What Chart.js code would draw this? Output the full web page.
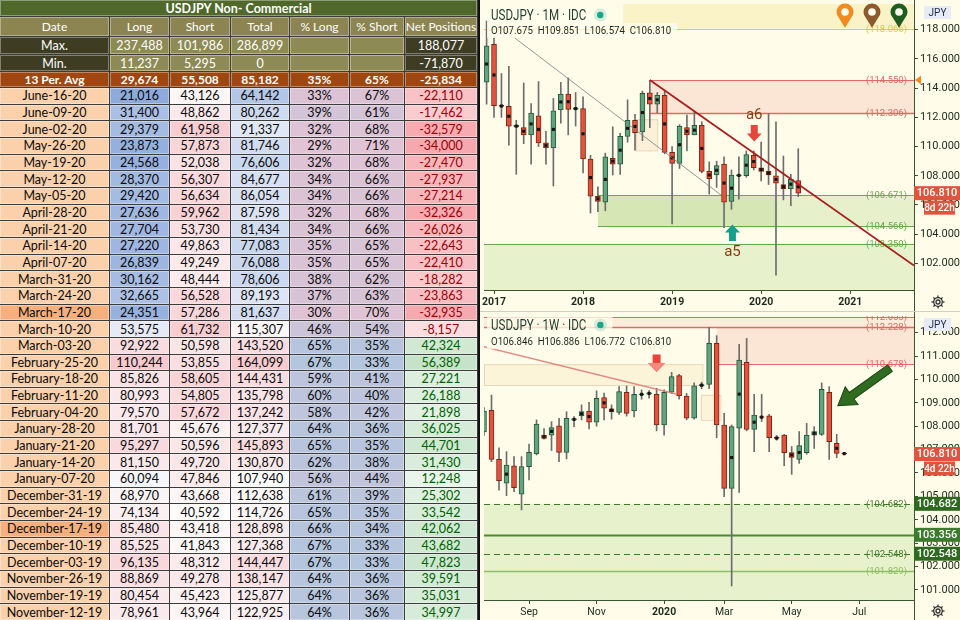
<!DOCTYPE html>
<html>
<head>
<meta charset="utf-8">
<title>USDJPY Non- Commercial</title>
<script src="https://cdn.jsdelivr.net/npm/chart.js@4.4.1/dist/chart.umd.min.js"></script>
<style>
  html, body { margin: 0; padding: 0; background: #fff; }
  body { width: 960px; height: 620px; position: relative; overflow: hidden; }
  #cot { position: absolute; left: 0; top: 0; width: 478px; height: 620px; overflow: hidden;
         display: grid; grid-template-columns: 110px 60px 61px 59px 60px 55px 73px;
         grid-template-rows: 17px 20px 18px 17px 16px repeat(32, 16.67px);
         background: #2a2a2a; font-family: Lato, 'Noto Sans', sans-serif; font-size: 12.5px; }
  #cot div { box-sizing: border-box; border-right: 1px solid #3b3b3b; border-bottom: 1px solid #3b3b3b;
             display: flex; align-items: center; justify-content: center; white-space: nowrap;
             overflow: hidden; color: #0a0a0a; box-shadow: inset 0 0 0 1px rgba(255,255,255,0.35); }
  #cot .title { grid-column: 1 / span 7; background: #50692b; color: #fff; font-weight: bold; }
  #cot .head { background: #8c8551; color: #fff; font-size: 12px; }
  #cot .dark { background: #3e3d24; color: #fff; }
  #cot .khaki { background: #8e8a55; color: #fff; box-shadow: inset 0 0 0 1px #bdb787; }
  #cot .avg { background: #a0470f; color: #fff; font-weight: bold; font-size: 12px; }
  #sep { position: absolute; left: 478px; top: 0; width: 2px; height: 620px; background: #111; }
  #right { position: absolute; left: 480px; top: 0; width: 480px; height: 620px; background: #fffdea; }
  #mChart { position: absolute; left: 0; top: 0; }
  #wChart { position: absolute; left: 0; top: 312px; }
  #divider { position: absolute; left: 0; top: 311px; width: 480px; height: 1px; background: #cfcfc3; }
</style>
</head>
<body>
<div id="cot"></div>
<div id="sep"></div>
<div id="right">
  <canvas id="mChart" width="480" height="311"></canvas>
  <div id="divider"></div>
  <canvas id="wChart" width="480" height="308"></canvas>
</div>
<script>
// ---------- COT table ----------
const colHeads = ['Date', 'Long', 'Short', 'Total', '% Long', '% Short', 'Net Positions'];
const summaryLabels = ['Max.', 'Min.', '13 Per. Avg'];
const summaryLong = [237488, 11237, 29674];
const summaryShort = [101986, 5295, 55508];
const summaryTotal = [286899, 0, 85182];
const summaryPctLong = [null, null, 35];
const summaryPctShort = [null, null, 65];
const summaryNet = [188077, -71870, -25834];

const rowDates = ['June-16-20', 'June-09-20', 'June-02-20', 'May-26-20', 'May-19-20', 'May-12-20', 'May-05-20',
  'April-28-20', 'April-21-20', 'April-14-20', 'April-07-20', 'March-31-20', 'March-24-20', 'March-17-20',
  'March-10-20', 'March-03-20', 'February-25-20', 'February-18-20', 'February-11-20', 'February-04-20',
  'January-28-20', 'January-21-20', 'January-14-20', 'January-07-20', 'December-31-19', 'December-24-19',
  'December-17-19', 'December-10-19', 'December-03-19', 'November-26-19', 'November-19-19', 'November-12-19'];
const longPos = [21016, 31400, 29379, 23873, 24568, 28370, 29420, 27636, 27704, 27220, 26839, 30162, 32665, 24351,
  53575, 92922, 110244, 85826, 80993, 79570, 81701, 95297, 81150, 60094, 68970, 74134, 85480, 85525, 96135, 88869, 80454, 78961];
const shortPos = [43126, 48862, 61958, 57873, 52038, 56307, 56634, 59962, 53730, 49863, 49249, 48444, 56528, 57286,
  61732, 50598, 53855, 58605, 54805, 57672, 45676, 50596, 49720, 47846, 43668, 40592, 43418, 41843, 48312, 49278, 45423, 43964];
const totalPos = [64142, 80262, 91337, 81746, 76606, 84677, 86054, 87598, 81434, 77083, 76088, 78606, 89193, 81637,
  115307, 143520, 164099, 144431, 135798, 137242, 127377, 145893, 130870, 107940, 112638, 114726, 128898, 127368, 144447, 138147, 125877, 122925];
const pctLong = [33, 39, 32, 29, 32, 34, 34, 32, 34, 35, 35, 38, 37, 30, 46, 65, 67, 59, 60, 58, 64, 65, 62, 56, 61, 65, 66, 67, 67, 64, 64, 64];
const pctShort = [67, 61, 68, 71, 68, 66, 66, 68, 66, 65, 65, 62, 63, 70, 54, 35, 33, 41, 40, 42, 36, 35, 38, 44, 39, 35, 34, 33, 33, 36, 36, 36];
const netPos = [-22110, -17462, -32579, -34000, -27470, -27937, -27214, -32326, -26026, -22643, -22410, -18282, -23863, -32935,
  -8157, 42324, 56389, 27221, 26188, 21898, 36025, 44701, 31430, 12248, 25302, 33542, 42062, 43682, 47823, 39591, 35031, 34997];
const highlightDates = ['March-17-20', 'December-17-19'];

// ---------- USDJPY monthly candles, Dec 2016 .. Jun 2020 (x = months after Jan 2017) ----------
const monthFirstX = -1;
const mOpen  = [114.4, 117.0, 112.8, 112.75, 111.35, 111.3, 110.8, 112.1, 110.25, 109.9, 112.5, 113.6, 112.55, 112.6,
  109.15, 106.6, 106.2, 109.2, 108.8, 110.7, 111.8, 111.0, 113.68, 112.9, 113.5, 109.6, 108.85, 111.3, 110.8, 111.45,
  108.3, 108.05, 108.8, 106.25, 108.0, 108.0, 109.4, 108.55, 108.3, 108.0, 107.4, 107.1, 107.675];
const mHigh  = [118.6, 117.5, 115.0, 115.5, 111.8, 114.35, 112.95, 114.45, 111.05, 113.3, 114.4, 114.7, 113.7, 113.4,
  109.4, 107.25, 109.55, 111.35, 110.9, 113.2, 112.2, 113.8, 114.53, 113.7, 113.8, 110.0, 111.5, 112.15, 112.4, 111.7,
  108.95, 109.0, 109.3, 108.4, 109.3, 109.7, 109.7, 110.3, 112.25, 111.7, 109.35, 108.1, 109.851];
const mLow   = [112.9, 112.0, 112.0, 110.1, 108.1, 110.2, 108.8, 110.0, 108.8, 107.3, 111.6, 110.8, 111.4, 108.2,
  105.45, 105.55, 105.6, 108.05, 108.1, 110.3, 109.75, 110.4, 111.3, 112.3, 109.5, 104.7, 108.5, 109.7, 110.8, 108.2,
  106.75, 107.2, 104.45, 105.7, 106.4, 107.9, 108.4, 107.65, 107.4, 101.2, 106.35, 105.95, 106.574];
const mClose = [116.9, 112.8, 112.75, 111.4, 111.45, 110.8, 112.3, 110.25, 109.9, 112.45, 113.6, 112.55, 112.65, 109.15,
  106.6, 106.25, 109.3, 108.8, 110.7, 111.8, 110.95, 113.65, 112.9, 113.5, 109.6, 108.85, 111.4, 110.8, 111.45, 108.3,
  107.8, 108.7, 106.2, 108.05, 108.05, 109.45, 108.55, 108.3, 108.05, 107.5, 107.1, 107.75, 106.81];
const yearTicks = [0, 12, 24, 36, 48];
const yearLabels = ['2017', '2018', '2019', '2020', '2021'];
const monthPriceTicks = [102, 104, 106, 108, 110, 112, 114, 116, 118];
const mTrendRed = [{ x: 21, y: 114.55 }, { x: 56.6, y: 101.85 }];
const mTrendGray = [{ x: 0, y: 118.52 }, { x: 30.57, y: 106.69 }];

// ---------- USDJPY weekly candles, week of Jul 22 2019 .. Jun 22 2020 ----------
const wOpen  = [107.75, 108.68, 106.58, 105.56, 106.3, 105.09, 106.27, 106.81, 107.62, 107.62, 108.01, 106.88, 108.27,
  108.44, 108.65, 108.17, 109.22, 108.74, 108.59, 109.45, 108.65, 109.34, 109.38, 109.36, 108.05, 109.45, 110.16, 109.29,
  108.34, 109.72, 109.79, 111.54, 108.05, 105.34, 107.91, 110.73, 107.86, 108.4, 108.44, 107.5, 107.62, 106.87, 106.58,
  106.87, 107.62, 107.65, 109.45, 107.27, 106.846];
const wHigh  = [108.8, 109.33, 107.08, 106.91, 106.7, 106.7, 107.23, 108.27, 107.9, 108.19, 108.34, 108.62, 108.41,
  108.91, 109.02, 109.51, 109.41, 108.91, 109.69, 109.72, 109.69, 109.55, 109.52, 109.62, 109.55, 110.3, 110.22, 109.4,
  109.85, 109.88, 112.23, 111.87, 108.55, 108.05, 111.5, 111.75, 109.36, 109.36, 108.51, 107.6, 107.65, 107.13, 107.77,
  108.12, 107.98, 109.85, 109.69, 107.65, 106.886];
const wLow   = [107.6, 106.48, 105.27, 105.03, 105.2, 104.42, 105.7, 106.77, 107.45, 106.96, 106.48, 106.6, 107.98,
  108.27, 107.88, 108.0, 108.27, 108.3, 108.5, 108.43, 108.4, 109.15, 109.2, 107.8, 107.62, 109.4, 109.16, 108.27,
  108.3, 109.6, 109.6, 107.5, 104.99, 101.17, 105.17, 107.8, 106.91, 108.2, 106.91, 107.4, 106.31, 105.94, 106.41,
  106.8, 107.05, 107.6, 106.58, 106.65, 106.772];
const wClose = [108.65, 106.58, 105.67, 106.34, 105.37, 106.27, 106.88, 108.09, 107.48, 107.94, 106.88, 108.34, 108.31,
  108.62, 108.17, 109.19, 108.77, 108.62, 109.48, 108.55, 109.36, 109.38, 109.42, 108.05, 109.45, 110.12, 109.29, 108.34,
  109.72, 109.78, 111.54, 108.05, 105.34, 107.98, 110.83, 107.86, 108.48, 108.37, 107.51, 107.48, 106.87, 106.67, 107.17,
  107.62, 107.77, 109.58, 107.34, 106.84, 106.81];
const wDotIdx = [3, 8, 9, 12, 13, 14, 16, 17, 21, 22, 29, 33, 34, 36, 37, 39, 41, 42, 44, 47, 48];
const weekTicks = [6, 15, 24, 32, 41, 50];
const weekLabels = ['Sep', 'Nov', '2020', 'Mar', 'May', 'Jul'];
const weekPriceTicks = [101, 102, 103, 104, 105, 106, 107, 108, 109, 110, 111, 112];
const wTrendRed = [{ x: -0.3, y: 111.42 }, { x: 25.6, y: 109.38 }];

// ---------- build the table ----------
const fmt = n => n.toLocaleString('en-US');
const hexRgb = h => [1, 3, 5].map(i => parseInt(h.substr(i, 2), 16));
function mix(c1, c2, t) {
  t = Math.max(0, Math.min(1, t));
  const a = hexRgb(c1), b = hexRgb(c2);
  return 'rgb(' + a.map((v, i) => Math.round(v + (b[i] - v) * t)).join(',') + ')';
}
function scale3(v, lo, mid, hi, cLo, cMid, cHi) {
  return v <= mid ? mix(cLo, cMid, (v - lo) / (mid - lo)) : mix(cMid, cHi, (v - mid) / (hi - mid));
}

const cot = document.getElementById('cot');
function add(text, cls, bg, color) {
  const d = document.createElement('div');
  d.textContent = text;
  if (cls) d.className = cls;
  if (bg) d.style.background = bg;
  if (color) d.style.color = color;
  cot.appendChild(d);
}

add('USDJPY Non- Commercial', 'title');
colHeads.forEach(h => add(h, 'head'));
summaryLabels.forEach((lab, i) => {
  if (i < 2) {
    add(lab, 'dark');
    add(fmt(summaryLong[i]), 'khaki');
    add(fmt(summaryShort[i]), 'khaki');
    add(fmt(summaryTotal[i]), 'khaki');
    add('', 'khaki');
    add('', 'khaki');
    add(fmt(summaryNet[i]), 'dark');
  } else {
    [lab, fmt(summaryLong[i]), fmt(summaryShort[i]), fmt(summaryTotal[i]),
     summaryPctLong[i] + '%', summaryPctShort[i] + '%', fmt(summaryNet[i])].forEach(t => add(t, 'avg'));
  }
});

const lMin = Math.min(...longPos), lMax = Math.max(...longPos);
const sMin = Math.min(...shortPos), sMax = Math.max(...shortPos);
const tMin = Math.min(...totalPos), tMax = Math.max(...totalPos);
rowDates.forEach((d, i) => {
  add(d, null, highlightDates.includes(d) ? '#f5b07d' : '#fbd1ab');
  add(fmt(longPos[i]), null, scale3(longPos[i], lMin, 62000, lMax, '#8eaadb', '#fbfbfd', '#f8cacf'));
  add(fmt(shortPos[i]), null, mix('#fefcfc', '#f8ccd0', (shortPos[i] - sMin) / (sMax - sMin)));
  add(fmt(totalPos[i]), null, scale3(totalPos[i], tMin, 108000, tMax, '#b4c7e7', '#fcfcfe', '#f8cbcf'));
  const pBg = mix('#e0c3d4', '#b4c5de', (pctLong[i] - 29) / 38);
  add(pctLong[i] + '%', null, pBg);
  add(pctShort[i] + '%', null, pBg);
  const n = netPos[i];
  add(fmt(n), null, n < 0 ? mix('#fdeff0', '#f5a8ad', -n / 34000) : mix('#f3f9f3', '#c6e3c9', n / 56389),
      n < 0 ? '#9c0006' : '#006100');
});

// ---------- chart helpers ----------
const GREEN = '#63a37f', GREEN_EDGE = '#24583a', RED = '#e2533e', RED_EDGE = '#7e2414', WICK = '#6d6d6d';
const AXIS_LINE = '#3b5530', AXIS_TEXT = '#1c2a1c';

function candleDatasets(x0, op, hi, lo, cl, dotIdx) {
  const xs = op.map((_, i) => x0 + i);
  const up = op.map((o, i) => cl[i] >= o);
  return [
    { type: 'scatter', data: dotIdx.map(i => ({ x: xs[i], y: (op[i] + cl[i]) / 2 })),
      pointStyle: 'rect', pointRadius: 2.2, backgroundColor: '#151515', borderWidth: 0 },
    { type: 'bar', data: xs.map((x, i) => ({ x, y: [op[i], cl[i]] })),
      backgroundColor: up.map(u => u ? GREEN : RED), borderColor: up.map(u => u ? GREEN_EDGE : RED_EDGE),
      borderWidth: 1, borderSkipped: false, barThickness: 5, grouped: false, minBarLength: 1 },
    { type: 'bar', data: xs.map((x, i) => ({ x, y: [lo[i], hi[i]] })),
      backgroundColor: WICK, barThickness: 1, grouped: false }
  ];
}

function trend(data, color, width) {
  return { type: 'line', data, borderColor: color, borderWidth: width, pointRadius: 0, fill: false, tension: 0 };
}

function axes(xMin, xMax, xTicks, xLabels, yMin, yMax, yTicks, xAxisH) {
  return {
    x: {
      type: 'linear', min: xMin, max: xMax, offset: false,
      afterBuildTicks: s => { s.ticks = xTicks.map(v => ({ value: v })); },
      afterFit: s => { s.height = xAxisH; s.paddingLeft = 0; s.paddingRight = 0; },
      ticks: {
        autoSkip: false, maxRotation: 0, padding: 2, color: AXIS_TEXT,
        callback: (v, i) => xLabels[i],
        font: c => ({ family: 'Roboto', size: 10.5, weight: /^\d{4}$/.test(xLabels[c.index]) ? 'bold' : 'normal' })
      },
      grid: { drawOnChartArea: false, offset: false, tickLength: 4, color: AXIS_LINE },
      border: { color: AXIS_LINE }
    },
    y: {
      type: 'linear', position: 'right', min: yMin, max: yMax,
      afterBuildTicks: s => { s.ticks = yTicks.map(v => ({ value: v })); },
      afterFit: s => { s.width = 46; s.paddingTop = 0; s.paddingBottom = 0; },
      ticks: { padding: 2, color: AXIS_TEXT, font: { family: 'Roboto', size: 11 }, callback: v => v.toFixed(3) },
      grid: { drawOnChartArea: false, tickLength: 4, color: AXIS_LINE },
      border: { color: AXIS_LINE }
    }
  };
}

function blockArrow(ctx, x0, y0, x1, y1, shaftW, headW, headLen, fill, headFill, edge) {
  const ang = Math.atan2(y1 - y0, x1 - x0), len = Math.hypot(x1 - x0, y1 - y0);
  ctx.save();
  ctx.translate(x0, y0);
  ctx.rotate(ang);
  ctx.beginPath();
  ctx.moveTo(0, -shaftW / 2); ctx.lineTo(len - headLen, -shaftW / 2); ctx.lineTo(len - headLen, -headW / 2);
  ctx.lineTo(len, 0); ctx.lineTo(len - headLen, headW / 2); ctx.lineTo(len - headLen, shaftW / 2);
  ctx.lineTo(0, shaftW / 2); ctx.closePath();
  ctx.fillStyle = fill; ctx.fill();
  if (edge) { ctx.strokeStyle = edge; ctx.lineWidth = 1; ctx.stroke(); }
  if (headFill) {
    ctx.beginPath();
    ctx.moveTo(len - headLen, -headW / 2); ctx.lineTo(len, 0); ctx.lineTo(len - headLen, headW / 2); ctx.closePath();
    ctx.fillStyle = headFill; ctx.fill();
  }
  ctx.restore();
}

function pin(ctx, cx, cy, r, color) {
  ctx.beginPath();
  ctx.arc(cx, cy, r, Math.PI * 0.75, Math.PI * 0.25);
  ctx.lineTo(cx, cy + r * 1.85);
  ctx.closePath();
  ctx.fillStyle = color; ctx.fill();
  ctx.beginPath(); ctx.arc(cx, cy, r * 0.45, 0, Math.PI * 2); ctx.fillStyle = '#fffdea'; ctx.fill();
}

function gear(ctx, cx, cy) {
  ctx.strokeStyle = '#333'; ctx.lineWidth = 1.3;
  for (let k = 0; k < 8; k++) {
    const a = k * Math.PI / 4;
    ctx.beginPath();
    ctx.moveTo(cx + Math.cos(a) * 4, cy + Math.sin(a) * 4);
    ctx.lineTo(cx + Math.cos(a) * 6.5, cy + Math.sin(a) * 6.5);
    ctx.stroke();
  }
  ctx.beginPath(); ctx.arc(cx, cy, 4.3, 0, Math.PI * 2); ctx.stroke();
  ctx.beginPath(); ctx.arc(cx, cy, 2, 0, Math.PI * 2); ctx.stroke();
}

// text squeezed horizontally, like the screenshot's narrow legend font
function narrowText(ctx, text, x, y, sx) {
  ctx.save();
  ctx.translate(x, y);
  ctx.scale(sx, 1);
  ctx.fillText(text, 0, 0);
  ctx.restore();
}

// levels, zones, arrows, legend and axis tags (TradingView drawings)
const overlay = {
  id: 'overlay',
  beforeDatasetsDraw(chart, args, o) {
    const { ctx, chartArea: a, scales: { x, y } } = chart;
    ctx.save();
    ctx.beginPath(); ctx.rect(a.left, a.top, a.width, a.height); ctx.clip();
    o.zones.forEach(z => {
      const x0 = z.x0 == null ? a.left : x.getPixelForValue(z.x0);
      const x1 = z.x1 == null ? a.right : x.getPixelForValue(z.x1);
      const y0 = z.y0 == null ? a.top : y.getPixelForValue(z.y0);
      const y1 = z.y1 == null ? a.bottom : y.getPixelForValue(z.y1);
      ctx.fillStyle = z.fill;
      ctx.fillRect(x0, y0, x1 - x0, y1 - y0);
      if (z.stroke) { ctx.strokeStyle = z.stroke; ctx.lineWidth = 1; ctx.strokeRect(x0 + 0.5, y0 + 0.5, x1 - x0, y1 - y0); }
    });
    o.levels.forEach(l => {
      const yy = Math.round(y.getPixelForValue(l.v)) + 0.5;
      const x0 = l.from == null ? a.left : x.getPixelForValue(l.from);
      ctx.strokeStyle = l.color; ctx.lineWidth = l.width || 1; ctx.setLineDash(l.dash || []);
      ctx.beginPath(); ctx.moveTo(x0, yy); ctx.lineTo(a.right, yy); ctx.stroke();
      ctx.setLineDash([]);
      if (l.label) {
        ctx.font = '9.5px Roboto'; ctx.fillStyle = l.color; ctx.textAlign = 'right'; ctx.textBaseline = 'middle';
        ctx.fillText('(' + l.v.toFixed(3) + ')', a.right - 7, yy);
      }
    });
    ctx.restore();
  },
  afterDatasetsDraw(chart, args, o) {
    const { ctx, chartArea: a, scales: { x, y } } = chart;
    ctx.save();
    ctx.beginPath(); ctx.rect(a.left, a.top, a.width, a.height); ctx.clip();
    o.marks.forEach(m => {
      const cx = x.getPixelForValue(m.x);
      blockArrow(ctx, cx, y.getPixelForValue(m.tail), cx, y.getPixelForValue(m.tip),
        m.shaft, m.head, m.headLen, m.color, m.headColor);
      ctx.font = '15px Roboto'; ctx.fillStyle = m.textColor; ctx.textAlign = 'center'; ctx.textBaseline = 'middle';
      ctx.fillText(m.text, cx, y.getPixelForValue(m.textAt));
    });
    if (o.pointer) {
      const p = o.pointer;
      blockArrow(ctx, x.getPixelForValue(p.x0), y.getPixelForValue(p.y0), x.getPixelForValue(p.x1), y.getPixelForValue(p.y1),
        8, 22, 17, '#2f6b20', null, '#1c4513');
    }
    // legend header: one pale box per line
    const h = o.header, sT = 0.8, sO = 0.88;
    ctx.font = '14.5px Roboto';
    const w1 = ctx.measureText(h.title).width * sT;
    ctx.font = '11px Roboto';
    const w2 = ctx.measureText(h.ohlc).width * sO;
    ctx.fillStyle = 'rgba(255,253,236,0.78)';
    ctx.fillRect(a.left + 3, h.y1 - 15, w1 + 30, 19);
    ctx.fillRect(a.left + 3, h.y2 - 11, w2 + 10, 15);
    ctx.fillStyle = '#1f3b2c'; ctx.textAlign = 'left'; ctx.textBaseline = 'alphabetic';
    ctx.font = '14.5px Roboto';
    narrowText(ctx, h.title, a.left + 7, h.y1, sT);
    const dx = a.left + 7 + w1 + 14, dy = h.y1 - 5;
    ctx.beginPath(); ctx.arc(dx, dy, 6.5, 0, Math.PI * 2); ctx.fillStyle = 'rgba(26,165,138,0.18)'; ctx.fill();
    ctx.beginPath(); ctx.arc(dx, dy, 3.2, 0, Math.PI * 2); ctx.fillStyle = '#1aa58a'; ctx.fill();
    ctx.font = '11px Roboto'; ctx.fillStyle = '#1c2a1c';
    narrowText(ctx, h.ohlc, a.left + 7, h.y2, sO);
    ctx.restore();
  },
  afterDraw(chart, args, o) {
    const { ctx, chartArea: a, scales: { y } } = chart;
    const W = chart.width, H = chart.height;
    ctx.save();
    ctx.strokeStyle = AXIS_LINE; ctx.lineWidth = 1;
    ctx.beginPath(); ctx.moveTo(a.right + 0.5, 0); ctx.lineTo(a.right + 0.5, H); ctx.stroke();
    o.tags.forEach(t => {
      const yy = y.getPixelForValue(t.v) + (t.dy || 0);
      if (t.tri) {
        ctx.beginPath(); ctx.moveTo(a.right + 1, yy); ctx.lineTo(a.right + 7, yy - 4.5); ctx.lineTo(a.right + 7, yy + 4.5);
        ctx.closePath(); ctx.fillStyle = t.bg; ctx.fill();
        return;
      }
      const x0 = a.right + (t.inset || 0), x1 = W - (t.inset ? 5 : 0);
      ctx.fillStyle = t.bg; ctx.fillRect(x0, yy - 7, x1 - x0, 14);
      ctx.fillStyle = '#fff'; ctx.font = (t.inset ? '500 10px' : '500 11px') + ' Roboto';
      ctx.textAlign = 'center'; ctx.textBaseline = 'middle';
      ctx.fillText(t.text || t.v.toFixed(3), (x0 + x1) / 2, yy + 0.5);
    });
    if (o.pins) {
      pin(ctx, a.right - 69, 12, 8.5, '#f28a22');
      pin(ctx, a.right - 42, 12, 8.5, '#8d5a2c');
      pin(ctx, a.right - 15, 12, 8.5, '#1f5c1f');
    }
    ctx.fillStyle = '#e7ebf6'; ctx.fillRect(a.right + 10, 6, 27, 13);
    ctx.fillStyle = '#1e2a44'; ctx.font = '10px Roboto'; ctx.textAlign = 'center'; ctx.textBaseline = 'middle';
    ctx.fillText('JPY', a.right + 23.5, 13);
    gear(ctx, a.right + 24, H - 9);
    ctx.restore();
  }
};

const last = mOpen.length - 1;
const lastW = wOpen.length - 1;
const ohlcText = (o, h, l, c) => 'O' + o.toFixed(3) + '  H' + h.toFixed(3) + '  L' + l.toFixed(3) + '  C' + c.toFixed(3);
const redLvl = '#e06a66', greenLvl = '#6aa84f';

// ---------- monthly chart ----------
new Chart(document.getElementById('mChart'), {
  type: 'bar',
  data: {
    datasets: [
      trend(mTrendRed, '#a81e1e', 1.8),
      trend(mTrendGray, 'rgba(125,125,125,0.8)', 1),
      ...candleDatasets(monthFirstX, mOpen, mHigh, mLow, mClose, mOpen.map((_, i) => i))
    ]
  },
  options: {
    responsive: false, animation: false, events: [],
    layout: { padding: { left: 1, top: 0, right: 0, bottom: 0 } },
    scales: axes(-1.35, 56.6, yearTicks, yearLabels, 100.18, 119.76, monthPriceTicks, 21),
    plugins: {
      legend: { display: false }, tooltip: { enabled: false },
      overlay: {
        zones: [
          { x0: 17.4, y0: null, y1: 118.066, fill: '#fbf3c8' },
          { x0: 21, y0: 114.55, y1: 112.306, fill: 'rgba(247,205,190,0.5)' },
          { x0: 19.1, x1: 22.0, y0: 111.87, y1: 109.74, fill: 'rgba(250,232,200,0.55)', stroke: 'rgba(225,205,170,0.8)' },
          { x0: 14.0, y0: 106.671, y1: 104.566, fill: 'rgba(180,215,140,0.33)' },
          { x0: 14.0, x1: 38.1, y0: 106.671, y1: 104.566, fill: 'rgba(170,200,120,0.25)' },
          { x0: null, y0: 103.35, y1: null, fill: 'rgba(185,220,150,0.35)' }
        ],
        levels: [
          { v: 118.066, color: '#f2c14e', label: true },
          { v: 114.55, color: redLvl, from: 21, label: true },
          { v: 112.306, color: redLvl, from: 21, width: 1.5, label: true },
          { v: 106.671, color: greenLvl, from: 14.0, label: true },
          { v: 104.566, color: greenLvl, from: 14.0, label: true },
          { v: 103.35, color: greenLvl, label: true }
        ],
        marks: [
          { x: 35.07, tail: 111.47, tip: 110.34, shaft: 7, head: 15, headLen: 8, color: '#e8453a', text: 'a6', textAt: 112.12, textColor: '#8b3b12' },
          { x: 32.13, tail: 103.54, tip: 104.67, shaft: 7, head: 15, headLen: 8, color: '#14a08a', text: 'a5', textAt: 102.76, textColor: '#8b3b12' }
        ],
        header: { title: 'USDJPY \u00b7 1M \u00b7 IDC', ohlc: ohlcText(mOpen[last], mHigh[last], mLow[last], mClose[last]), y1: 20, y2: 34 },
        tags: [
          { v: 114.55, tri: true, bg: '#f28a22' },
          { v: mClose[last], bg: '#e0533d' },
          { v: mClose[last], dy: 14.5, inset: 10, text: '8d 22h', bg: '#e0533d' }
        ],
        pins: true
      }
    }
  },
  plugins: [overlay]
});

// ---------- weekly chart ----------
new Chart(document.getElementById('wChart'), {
  type: 'bar',
  data: {
    datasets: [
      trend(wTrendRed, 'rgba(222,120,115,0.85)', 1.5),
      ...candleDatasets(0, wOpen, wHigh, wLow, wClose, wDotIdx)
    ]
  },
  options: {
    responsive: false, animation: false, events: [],
    layout: { padding: { left: 1, top: 4, right: 0, bottom: 0 } },
    scales: axes(0.0, 57.3, weekTicks, weekLabels, 100.57, 112.71, weekPriceTicks, 20),
    plugins: {
      legend: { display: false }, tooltip: { enabled: false },
      overlay: {
        zones: [
          { x0: null, y0: 112.655, y1: 112.228, fill: 'rgba(247,205,190,0.35)' },
          { x0: 31.0, y0: 112.228, y1: 110.678, fill: 'rgba(247,205,190,0.5)' },
          { x0: null, x1: 29.1, y0: 110.65, y1: 109.76, fill: 'rgba(250,236,200,0.55)', stroke: 'rgba(225,208,175,0.8)' },
          { x0: 28.9, x1: 31.5, y0: 109.34, y1: 108.27, fill: 'rgba(250,236,200,0.55)', stroke: 'rgba(225,208,175,0.8)' },
          { x0: null, y0: 104.682, y1: null, fill: 'rgba(185,220,150,0.35)' }
        ],
        levels: [
          { v: 112.655, color: redLvl, label: true },
          { v: 112.228, color: redLvl, width: 1.5, label: true },
          { v: 110.678, color: redLvl, from: 31.0, label: true },
          { v: 104.682, color: '#3f7a2c', dash: [6, 4], label: true },
          { v: 103.356, color: '#4c8a30', width: 2 },
          { v: 102.548, color: '#3f7a2c', dash: [6, 4], label: true },
          { v: 101.829, color: '#8cc063', width: 1.5, label: true }
        ],
        marks: [
          { x: 23.0, tail: 111.06, tip: 110.32, shaft: 8, head: 17, headLen: 9, color: '#e8453a', headColor: '#f48a7e', text: 'a6', textAt: 111.47, textColor: 'rgba(139,59,18,0.35)' }
        ],
        pointer: { x0: 54.1, y0: 110.48, x1: 47.15, y1: 108.88 },
        header: { title: 'USDJPY \u00b7 1W \u00b7 IDC', ohlc: ohlcText(wOpen[lastW], wHigh[lastW], wLow[lastW], wClose[lastW]), y1: 18, y2: 33 },
        tags: [
          { v: wClose[lastW], bg: '#e0533d' },
          { v: wClose[lastW], dy: 14.5, inset: 10, text: '4d 22h', bg: '#e0533d' },
          { v: 104.682, bg: '#2d6a1f' },
          { v: 103.356, bg: '#3d7b2c' },
          { v: 102.548, bg: '#2d6a1f' }
        ],
        pins: false
      }
    }
  },
  plugins: [overlay]
});
</script>
</body>
</html>
